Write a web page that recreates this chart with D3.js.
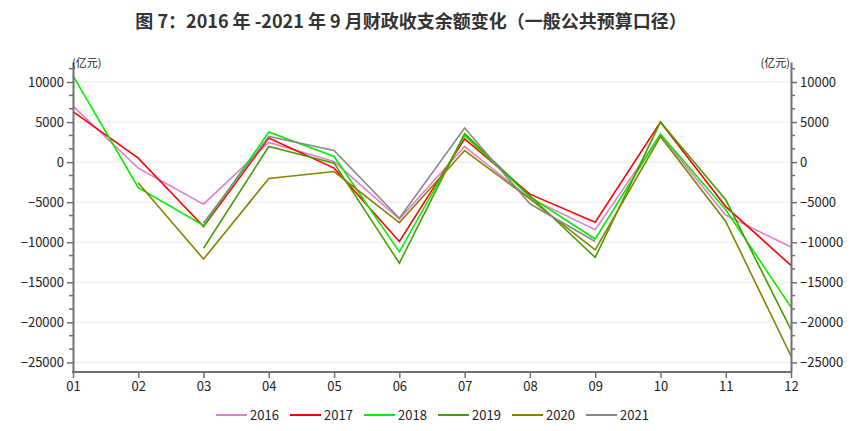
<!DOCTYPE html>
<html>
<head>
<meta charset="utf-8">
<script src="https://cdn.jsdelivr.net/npm/d3@7"></script>
<style>
  body { margin: 0; background: #fff; }
  text { font-family: "Noto Sans CJK SC", "Open Sans", sans-serif; }
</style>
</head>
<body>
<div id="chart"></div>
<script>
const months = ["01", "02", "03", "04", "05", "06", "07", "08", "09", "10", "11", "12"]
const seriesNames = ["2016", "2017", "2018", "2019", "2020", "2021"]
const seriesColors = ["#e07fd2", "#ff0000", "#00ee00", "#44a000", "#8a8000", "#888888"]

const v2016 = [7000, -750, -5250, 2450, 75, -7100, 1950, -4500, -8450, 3400, -6600, -10600]
const v2017 = [6300, 500, -8050, 3000, -750, -9900, 2900, -4000, -7500, 5000, -5550, -12900]
const v2018 = [10800, -3200, -7900, 3750, 700, -11200, 3300, -4300, -9600, 3500, -5950, -18100]
const v2019 = [null, null, -10750, 1950, -130, -12600, 3550, -4200, -11900, 5000, -4700, -20900]
const v2020 = [null, -2600, -12100, -2050, -1170, -7550, 1450, -4600, -10950, 3200, -7400, -24200]
const v2021 = [null, null, -7600, 3200, 1450, -7000, 4250, -5200, -9900, null, null, null]
const allValues = [v2016, v2017, v2018, v2019, v2020, v2021]

const yTicks = [10000, 5000, 0, -5000, -10000, -15000, -20000, -25000]

const width = 858, height = 431
const plotLeft = 73, plotRight = 791, plotTop = 62, plotBottom = 372

const svg = d3.select("#chart").append("svg")
    .attr("width", width)
    .attr("height", height)

const x = d3.scalePoint().domain(months).range([plotLeft, plotRight])
const y = d3.scaleLinear().domain([-26200, 12500]).range([plotBottom, plotTop])

// grid
svg.append("g")
    .selectAll("line")
    .data(yTicks)
    .join("line")
    .attr("x1", plotLeft).attr("x2", plotRight)
    .attr("y1", d => y(d)).attr("y2", d => y(d))
    .attr("stroke", "#e8e8e8")
    .attr("stroke-width", 1)

// lines
const line = d3.line()
    .defined(d => d != null)
    .x((d, i) => x(months[i]))
    .y(d => y(d))

svg.append("g")
    .selectAll("path")
    .data(allValues)
    .join("path")
    .attr("d", d => line(d))
    .attr("fill", "none")
    .attr("stroke", (d, i) => seriesColors[i])
    .attr("stroke-width", 1.6)

// minor ticks every 5000/3
const minorTicks = []
for (let i = -16; i <= 7; i++) {
  const v = i * 5000 / 3
  if (i % 3 !== 0 && y(v) <= plotBottom && y(v) >= plotTop) minorTicks.push(v)
}

const axisColor = "#707070"
const fmt = d3.format("d")

function styleAxis(g) {
  g.select(".domain").attr("stroke", axisColor).attr("stroke-width", 2)
  g.selectAll(".tick line").attr("stroke", axisColor).attr("stroke-width", 1.5)
  g.selectAll(".tick text").attr("fill", "#222").style("font-size", "13px")
}

const leftAxis = svg.append("g")
    .attr("transform", `translate(${plotLeft},0)`)
    .call(d3.axisLeft(y).tickValues(yTicks).tickFormat(fmt).tickSize(6).tickSizeOuter(0).tickPadding(3))
leftAxis.call(styleAxis)
leftAxis.selectAll(".minor").data(minorTicks).join("line")
    .attr("class", "minor")
    .attr("x1", -4).attr("x2", 0)
    .attr("y1", d => y(d)).attr("y2", d => y(d))
    .attr("stroke", axisColor).attr("stroke-width", 1.5)

const rightAxis = svg.append("g")
    .attr("transform", `translate(${plotRight},0)`)
    .call(d3.axisRight(y).tickValues(yTicks).tickFormat(fmt).tickSize(6).tickSizeOuter(0).tickPadding(3))
rightAxis.call(styleAxis)
rightAxis.selectAll(".minor").data(minorTicks).join("line")
    .attr("class", "minor")
    .attr("x1", 0).attr("x2", 4)
    .attr("y1", d => y(d)).attr("y2", d => y(d))
    .attr("stroke", axisColor).attr("stroke-width", 1.5)

const bottomAxis = svg.append("g")
    .attr("transform", `translate(0,${plotBottom})`)
    .call(d3.axisBottom(x).tickSize(6).tickSizeOuter(0).tickPadding(4))
bottomAxis.call(styleAxis)
bottomAxis.select(".domain").attr("d", `M${plotLeft - 1},0H${plotRight + 1}`)

// unit labels
svg.append("text")
    .attr("x", plotLeft - 1).attr("y", plotTop + 5)
    .style("font-size", "11px").attr("fill", "#222")
    .text("(亿元)")
svg.append("text")
    .attr("x", plotRight - 1).attr("y", plotTop + 5)
    .attr("text-anchor", "end")
    .style("font-size", "11px").attr("fill", "#222")
    .text("(亿元)")

// title
svg.append("text")
    .attr("x", 411).attr("y", 28)
    .attr("text-anchor", "middle")
    .style("font-size", "18px").style("font-weight", "bold")
    .attr("fill", "#333")
    .text("图 7：2016 年 -2021 年 9 月财政收支余额变化（一般公共预算口径）")

// legend
const legend = svg.append("g")
    .selectAll("g")
    .data(seriesNames)
    .join("g")
    .attr("transform", (d, i) => `translate(${216 + i * 74},415)`)
legend.append("line")
    .attr("x1", 0).attr("x2", 31)
    .attr("stroke", (d, i) => seriesColors[i])
    .attr("stroke-width", 2)
legend.append("text")
    .attr("x", 34).attr("y", 5)
    .style("font-size", "13px").attr("fill", "#222")
    .text(d => d)
</script>
</body>
</html>
